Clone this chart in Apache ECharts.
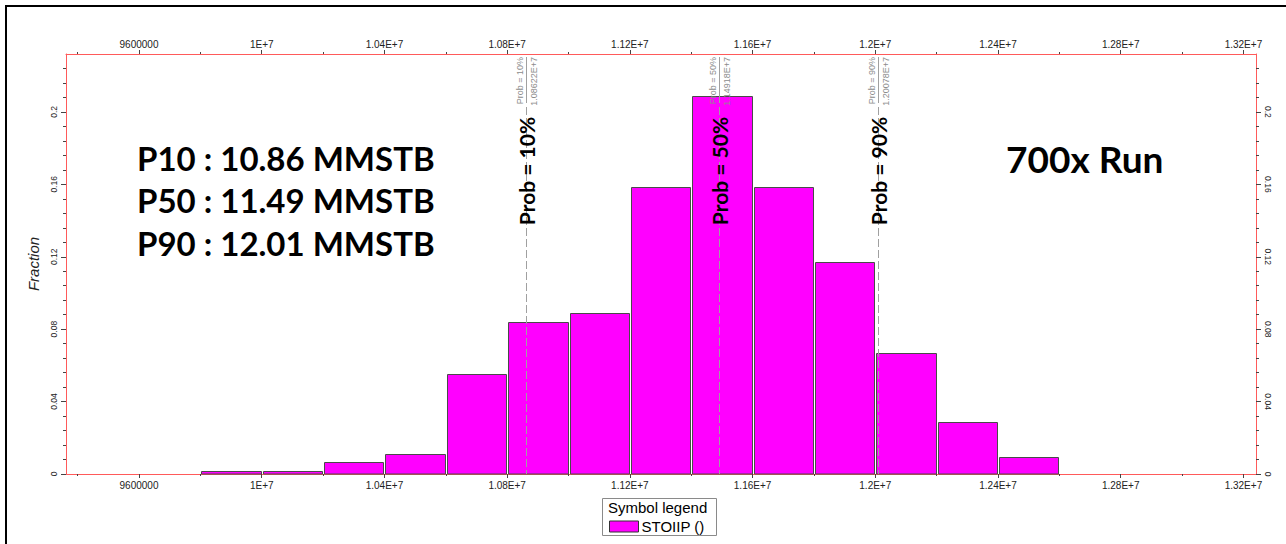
<!DOCTYPE html>
<html><head><meta charset="utf-8">
<script src="https://cdn.jsdelivr.net/npm/echarts@6/dist/echarts.min.js"></script>
<style>html,body{margin:0;padding:0;background:#fff}#c{width:1286px;height:544px}</style>
</head><body><div id="c"></div>
<script>
// ---- data ----
const binEdges = [9800000, 10000000, 10200000, 10400000, 10600000, 10800000, 11000000, 11200000, 11400000, 11600000, 11800000, 12000000, 12200000, 12400000, 12600000];
const fractions = [0.0014, 0.0014, 0.0064, 0.0110, 0.0555, 0.0842, 0.0889, 0.1586, 0.2088, 0.1586, 0.1169, 0.0669, 0.0286, 0.0094];
const xTickValues = [9600000, 10000000, 10400000, 10800000, 11200000, 11600000, 12000000, 12400000, 12800000, 13200000];
const xTickLabels = ['9600000', '1E+7', '1.04E+7', '1.08E+7', '1.12E+7', '1.16E+7', '1.2E+7', '1.24E+7', '1.28E+7', '1.32E+7'];
const yTickValues = [0, 0.04, 0.08, 0.12, 0.16, 0.2];
const yTickLabels = ['0', '0.04', '0.08', '0.12', '0.16', '0.2'];
const probValues = [10862200, 11491800, 12007800];
const probNames = ['Prob = 10%', 'Prob = 50%', 'Prob = 90%'];
const probLabels = ['1.08622E+7', '1.14918E+7', '1.20078E+7'];
const summaryLines = ['P10 : 10.86 MMSTB', 'P50 : 11.49 MMSTB', 'P90 : 12.01 MMSTB'];
const runLabel = '700x Run';
const seriesName = 'STOIIP ()';
const yAxisTitle = 'Fraction';
const legendTitle = 'Symbol legend';

// ---- axis ranges ----
const X_MIN = 9362000, X_MAX = 13241000;
const Y_MIN = 0, Y_MAX = 0.232;
const xMinor = xTickValues.map(v => v - 200000);
const yMinor = [];
for (let k = 1; k < 29; k++) { if (k % 5 !== 0) yMinor.push(+(k * 0.008).toFixed(3)); }

const RED = '#ff5a5a';
const TICK = '#444';
const FONT = '"Liberation Sans", Arial, sans-serif';

function lookup(vals, labels, v) {
  const i = vals.findIndex(t => Math.abs(t - v) < 1e-9 * Math.max(1, Math.abs(t)) + 1e-9);
  return i >= 0 ? labels[i] : '';
}

function xAx(position, major) {
  return {
    type: 'value', position, min: X_MIN, max: X_MAX, splitLine: { show: false },
    axisLine: { show: major, onZero: false, lineStyle: { color: RED, width: 1 } },
    axisTick: { show: true, length: major ? 4 : 2, customValues: major ? xTickValues : xMinor, lineStyle: { color: TICK } },
    axisLabel: { show: major, customValues: xTickValues, formatter: v => lookup(xTickValues, xTickLabels, v),
      fontSize: 10, color: '#222', fontFamily: FONT, margin: position === 'top' ? 5 : 6 }
  };
}
function yAx(position, major) {
  const left = position === 'left';
  return {
    type: 'value', position, min: Y_MIN, max: Y_MAX, splitLine: { show: false },
    name: (left && major) ? yAxisTitle : '', nameLocation: 'middle', nameGap: 24,
    nameTextStyle: { fontSize: 15, fontStyle: 'italic', color: '#222', fontFamily: FONT },
    axisLine: { show: major, onZero: false, lineStyle: { color: RED, width: 1 } },
    axisTick: { show: true, length: major ? 5 : 3, customValues: major ? yTickValues : yMinor, lineStyle: { color: TICK } },
    axisLabel: { show: major, customValues: yTickValues, formatter: v => lookup(yTickValues, yTickLabels, v),
      rotate: left ? 90 : -90, fontSize: 8.5, color: '#222', fontFamily: FONT, margin: left ? 8 : 7 }
  };
}

const chart = echarts.init(document.getElementById('c'), null, { renderer: 'svg' });
chart.setOption({
  animation: false,
  backgroundColor: '#fff',
  grid: { left: 66, top: 54, right: 30, bottom: 70, show: false, containLabel: false },
  xAxis: [xAx('bottom', true), xAx('bottom', false), xAx('top', true), xAx('top', false)],
  yAxis: [yAx('left', true), yAx('left', false), yAx('right', true), yAx('right', false)],
  legend: {
    data: [seriesName], left: 609, top: 519, itemWidth: 29, itemHeight: 11, icon: 'rect',
    itemGap: 4, padding: 0,
    itemStyle: { borderColor: '#333', borderWidth: 1 },
    textStyle: { fontSize: 15, color: '#000', fontFamily: FONT, padding: [1, 0, 0, -2] }
  },
  series: [
    {
      type: 'custom', name: seriesName, xAxisIndex: 0, yAxisIndex: 0, z: 2,
      itemStyle: { color: '#ff00ff' },
      data: fractions.map((f, i) => [binEdges[i], binEdges[i + 1], f]),
      encode: { x: [0, 1], y: 2 },
      renderItem: function (params, api) {
        const p0 = api.coord([api.value(0), api.value(2)]);
        const p1 = api.coord([api.value(1), 0]);
        const x0 = Math.round(p0[0]) + 1.5, x1 = Math.round(p1[0]) - 0.5;
        const yt = Math.round(p0[1]) + 0.5, yb = Math.round(p1[1]);
        return {
          type: 'rect',
          shape: { x: x0, y: yt, width: x1 - x0, height: yb - yt },
          style: { fill: '#ff00ff', stroke: '#4a4a4a', lineWidth: 1 }
        };
      }
    },
    {
      type: 'custom', name: 'prob', xAxisIndex: 0, yAxisIndex: 0, z: 3, silent: true,
      data: probValues.map((v, i) => [v, i]),
      encode: { x: 0 },
      renderItem: function (params, api) {
        const i = api.value(1);
        const top = api.coord([api.value(0), Y_MAX]);
        const bot = api.coord([api.value(0), 0]);
        const x = Math.round(top[0]) + 0.5;
        const t = top[1];
        return {
          type: 'group', children: [
            { type: 'line', shape: { x1: x, y1: t + 3, x2: x, y2: t + 49 }, style: { stroke: '#a0a0a0', lineWidth: 1 } },
            { type: 'line', shape: { x1: x, y1: t + 53, x2: x, y2: bot[1] }, style: { stroke: '#a0a0a0', lineWidth: 1, lineDash: [8, 3] } },
            { type: 'text', x: x - 7, y: t + 3, rotation: Math.PI / 2,
              style: { text: probNames[i], fill: '#8c8c8c', font: '9px ' + FONT, align: 'right', verticalAlign: 'middle' } },
            { type: 'text', x: x + 7, y: t + 3, rotation: Math.PI / 2,
              style: { text: probLabels[i], fill: '#8c8c8c', font: '9px ' + FONT, align: 'right', verticalAlign: 'middle' } },
            { type: 'text', x: x, y: t + 117, rotation: Math.PI / 2, z2: 10,
              style: { text: probNames[i], fill: '#000', font: 'bold 21px Lato', align: 'center', verticalAlign: 'middle' } }
          ]
        };
      }
    }
  ],
  graphic: [
    { type: 'line', shape: { x1: 5, y1: 6, x2: 1286, y2: 6 }, style: { stroke: '#000', lineWidth: 2 } },
    { type: 'line', shape: { x1: 6, y1: 5, x2: 6, y2: 544 }, style: { stroke: '#000', lineWidth: 2 } },
    { type: 'rect', shape: { x: 602.5, y: 498.5, width: 114, height: 37 }, style: { fill: 'none', stroke: '#8a8a8a', lineWidth: 1 } },
    { type: 'text', x: 608, y: 507, style: { text: legendTitle, fill: '#000', font: '15px ' + FONT, verticalAlign: 'middle' } },
    { type: 'text', x: 137, y: 158, style: { text: summaryLines[0], fill: '#000', font: 'bold 33px Lato', verticalAlign: 'middle' } },
    { type: 'text', x: 137, y: 200, style: { text: summaryLines[1], fill: '#000', font: 'bold 33px Lato', verticalAlign: 'middle' } },
    { type: 'text', x: 137, y: 243, style: { text: summaryLines[2], fill: '#000', font: 'bold 33px Lato', verticalAlign: 'middle' } },
    { type: 'text', x: 1006, y: 158, style: { text: runLabel, fill: '#000', font: 'bold 37px Lato', verticalAlign: 'middle' } }
  ]
});
</script>
</body></html>
